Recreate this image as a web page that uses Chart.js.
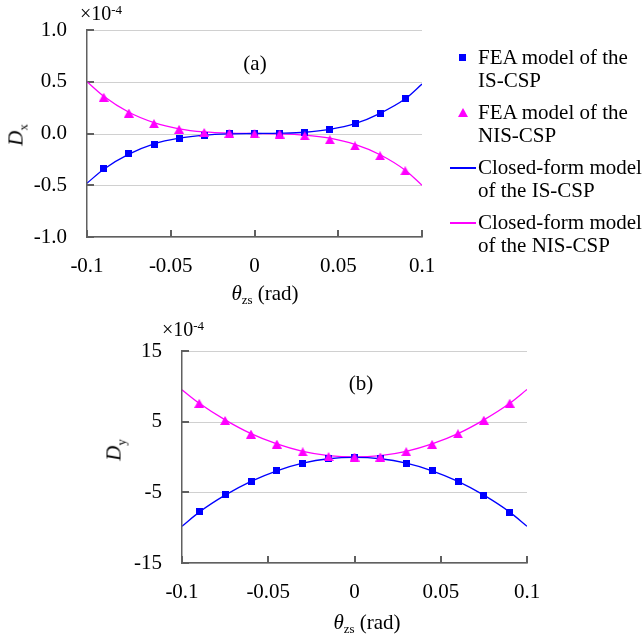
<!DOCTYPE html>
<html>
<head>
<meta charset="utf-8">
<title>Dx and Dy versus theta_zs</title>
<script src="https://cdn.jsdelivr.net/npm/chart.js@4.4.0/dist/chart.umd.min.js"></script>
<style>
  body { margin: 0; background: #fff; }
  #page { position: relative; width: 642px; height: 636px; overflow: hidden;
          font-family: "Liberation Serif", "Times New Roman", serif; color: #000; }
  canvas { position: absolute; }
  .t { position: absolute; font-size: 21px; line-height: 1; white-space: nowrap; }
  .c { transform: translate(-50%, -50%); }
  .r { transform: translate(-50%, -50%) rotate(-90deg); }
  .t sub { font-size: 0.62em; vertical-align: -0.35em; line-height: 0; }
  .t sup { font-size: 0.65em; vertical-align: 0.45em; line-height: 0; }
  .leg { position: absolute; left: 478px; font-size: 21px; line-height: 22.5px; white-space: nowrap; }
  .mk { position: absolute; }
</style>
</head>
<body>
<div id="page">
  <canvas id="chartA" width="440" height="310" style="left:0px; top:0px;"></canvas>
  <canvas id="chartB" width="460" height="326" style="left:90px; top:310px;"></canvas>

  <!-- panel (a) texts -->
  <div class="t" style="left:80px; top:3px; font-size:20px;">×10<sup>-4</sup></div>
  <div class="t c" style="left:255px; top:63px;">(a)</div>
  <div class="t r" style="left:16px; top:135px;"><i>D</i><sub>x</sub></div>
  <div class="t c" style="left:265px; top:293px;"><i>θ</i><sub>zs</sub> (rad)</div>

  <!-- panel (b) texts -->
  <div class="t" style="left:162px; top:319px; font-size:20px;">×10<sup>-4</sup></div>
  <div class="t c" style="left:361px; top:383px;">(b)</div>
  <div class="t r" style="left:114px; top:450px;"><i>D</i><sub>y</sub></div>
  <div class="t c" style="left:367px; top:622px;"><i>θ</i><sub>zs</sub> (rad)</div>

  <!-- legend -->
  <div class="mk" style="left:459px; top:54px; width:7px; height:7px; background:#0000ff;"></div>
  <div class="leg" style="top:46px;">FEA model of the<br>IS-CSP</div>
  <div class="mk" style="left:458px; top:108px; width:0; height:0; border-left:5px solid transparent; border-right:5px solid transparent; border-bottom:9px solid #ff00ff;"></div>
  <div class="leg" style="top:101px;">FEA model of the<br>NIS-CSP</div>
  <div class="mk" style="left:450px; top:167px; width:26px; height:2px; background:#0000ff;"></div>
  <div class="leg" style="top:156px;">Closed-form model<br>of the IS-CSP</div>
  <div class="mk" style="left:450px; top:222px; width:26px; height:2px; background:#ff00ff;"></div>
  <div class="leg" style="top:211px;">Closed-form model<br>of the NIS-CSP</div>
</div>

<script>
// rotation angle theta_zs (rad)
const thetaFea = [-0.09, -0.075, -0.06, -0.045, -0.03, -0.015, 0, 0.015, 0.03, 0.045, 0.06, 0.075, 0.09];
const thetaCurve = [-0.1, -0.09, -0.075, -0.06, -0.045, -0.03, -0.015, 0, 0.015, 0.03, 0.045, 0.06, 0.075, 0.09, 0.1];
const xTicks = [-0.1, -0.05, 0, 0.05, 0.1];

// (a) Dx, x1e-4
const dxFeaIS  = [-0.34, -0.195, -0.103, -0.048, -0.015, -0.004, 0, 0.002, 0.01, 0.035, 0.093, 0.195, 0.334];
const dxFeaNIS = [0.35, 0.197, 0.095, 0.04, 0.01, 0.002, -0.003, -0.005, -0.022, -0.06, -0.12, -0.215, -0.36];
const dxCurveIS  = [-0.48, -0.345, -0.2, -0.1, -0.045, -0.015, -0.003, 0, 0.003, 0.012, 0.04, 0.095, 0.195, 0.335, 0.478];
const dxCurveNIS = [0.5, 0.36, 0.205, 0.105, 0.045, 0.015, 0.003, 0, -0.003, -0.015, -0.045, -0.105, -0.205, -0.355, -0.5];
const dxTicks = [-1.0, -0.5, 0, 0.5, 1.0];

// (b) Dy, x1e-4
const dyFeaIS  = [-7.76, -5.37, -3.45, -1.94, -0.91, -0.25, -0.07, -0.25, -0.86, -1.94, -3.45, -5.42, -7.82];
const dyFeaNIS = [7.59, 5.17, 3.24, 1.83, 0.73, 0.07, 0, 0.0, 0.76, 1.79, 3.29, 5.21, 7.61];
const dyCurveIS  = [-9.8, -7.8, -5.4, -3.45, -1.95, -0.88, -0.25, -0.05, -0.25, -0.88, -1.95, -3.45, -5.4, -7.8, -9.8];
const dyCurveNIS = [9.5, 7.6, 5.25, 3.3, 1.85, 0.8, 0.2, 0, 0.2, 0.8, 1.85, 3.3, 5.25, 7.6, 9.55];
const dyTicks = [-15, -5, 5, 15];

const blue = '#0000ff';
const magenta = '#ff00ff';
const axisColor = '#606060';
const gridColor = '#d0d0d0';
const tickFont = { family: '"Liberation Serif", "Times New Roman", serif', size: 21 };

const pts = (xs, ys) => xs.map((x, i) => ({ x: x, y: ys[i] }));

// marker images, centred on their bounding box
function squareMarker() {
  const c = document.createElement('canvas');
  c.width = 7; c.height = 7;
  const g = c.getContext('2d');
  g.fillStyle = blue;
  g.fillRect(0, 0, 7, 7);
  return c;
}
function triangleMarker() {
  const c = document.createElement('canvas');
  c.width = 10; c.height = 9;
  const g = c.getContext('2d');
  g.fillStyle = magenta;
  g.beginPath(); g.moveTo(5, 0); g.lineTo(10, 9); g.lineTo(0, 9); g.closePath(); g.fill();
  return c;
}
const sqMark = squareMarker();
const triMark = triangleMarker();

// light horizontal grid + excel-style inside tick marks
const frame = {
  id: 'frame',
  beforeDatasetsDraw(chart) {
    const { ctx, chartArea: a, scales: { x, y } } = chart;
    ctx.save();
    ctx.strokeStyle = gridColor;
    ctx.lineWidth = 1;
    ctx.beginPath();
    y.ticks.forEach(t => {
      const py = Math.round(y.getPixelForValue(t.value)) + 0.5;
      ctx.moveTo(a.left, py); ctx.lineTo(a.right, py);
    });
    ctx.stroke();
    ctx.strokeStyle = axisColor;
    ctx.lineWidth = 2;
    ctx.beginPath();
    x.ticks.forEach(t => {
      const px = Math.round(x.getPixelForValue(t.value));
      ctx.moveTo(px, a.bottom); ctx.lineTo(px, a.bottom - 7);
    });
    y.ticks.forEach(t => {
      const py = Math.round(y.getPixelForValue(t.value));
      ctx.moveTo(a.left, py); ctx.lineTo(a.left + 7, py);
    });
    ctx.stroke();
    ctx.restore();
  }
};

function makeChart(id, feaIS, feaNIS, curveIS, curveNIS, yTicks, yMin, yMax, fmt, geo) {
  return new Chart(document.getElementById(id), {
    type: 'scatter',
    data: {
      datasets: [
        { label: 'FEA model of the NIS-CSP', data: pts(thetaFea, feaNIS), showLine: false,
          pointStyle: triMark, pointRadius: 4, pointHoverRadius: 4 },
        { label: 'FEA model of the IS-CSP', data: pts(thetaFea, feaIS), showLine: false,
          pointStyle: sqMark, pointRadius: 4, pointHoverRadius: 4 },
        { label: 'Closed-form model of the IS-CSP', data: pts(thetaCurve, curveIS), showLine: true,
          borderColor: blue, borderWidth: 1.3, pointRadius: 0, cubicInterpolationMode: 'monotone' },
        { label: 'Closed-form model of the NIS-CSP', data: pts(thetaCurve, curveNIS), showLine: true,
          borderColor: magenta, borderWidth: 1.3, pointRadius: 0, cubicInterpolationMode: 'monotone' }
      ]
    },
    options: {
      responsive: false,
      animation: false,
      devicePixelRatio: 1,
      layout: { padding: { top: geo.top, right: geo.right, left: 0, bottom: 0 } },
      plugins: { legend: { display: false }, tooltip: { enabled: false } },
      scales: {
        x: {
          type: 'linear', min: -0.1, max: 0.1,
          afterBuildTicks: s => { s.ticks = xTicks.map(v => ({ value: v })); },
          afterFit: s => { s.height = geo.xh; s.paddingLeft = 0; s.paddingRight = 0; },
          grid: { display: true, drawOnChartArea: false, drawTicks: false },
          border: { display: true, color: axisColor, width: 1.5, z: 1 },
          ticks: { padding: 17, color: '#000', font: tickFont, maxRotation: 0, autoSkip: false,
                   callback: v => String(v) }
        },
        y: {
          type: 'linear', min: yMin, max: yMax,
          afterBuildTicks: s => { s.ticks = yTicks.map(v => ({ value: v })); },
          afterFit: s => { s.width = geo.yw; s.paddingTop = 0; s.paddingBottom = 0; },
          grid: { display: true, drawOnChartArea: false, drawTicks: false },
          border: { display: true, color: axisColor, width: 1.5, z: 1 },
          ticks: { padding: 20, color: '#000', font: tickFont, autoSkip: false, callback: fmt }
        }
      }
    },
    plugins: [frame]
  });
}

makeChart('chartA', dxFeaIS, dxFeaNIS, dxCurveIS, dxCurveNIS, dxTicks, -1, 1,
  v => v.toFixed(1), { top: 30, right: 18, xh: 73, yw: 87 });
makeChart('chartB', dyFeaIS, dyFeaNIS, dyCurveIS, dyCurveNIS, dyTicks, -15, 15,
  v => String(v), { top: 41, right: 23, xh: 73, yw: 92 });
</script>
</body>
</html>
